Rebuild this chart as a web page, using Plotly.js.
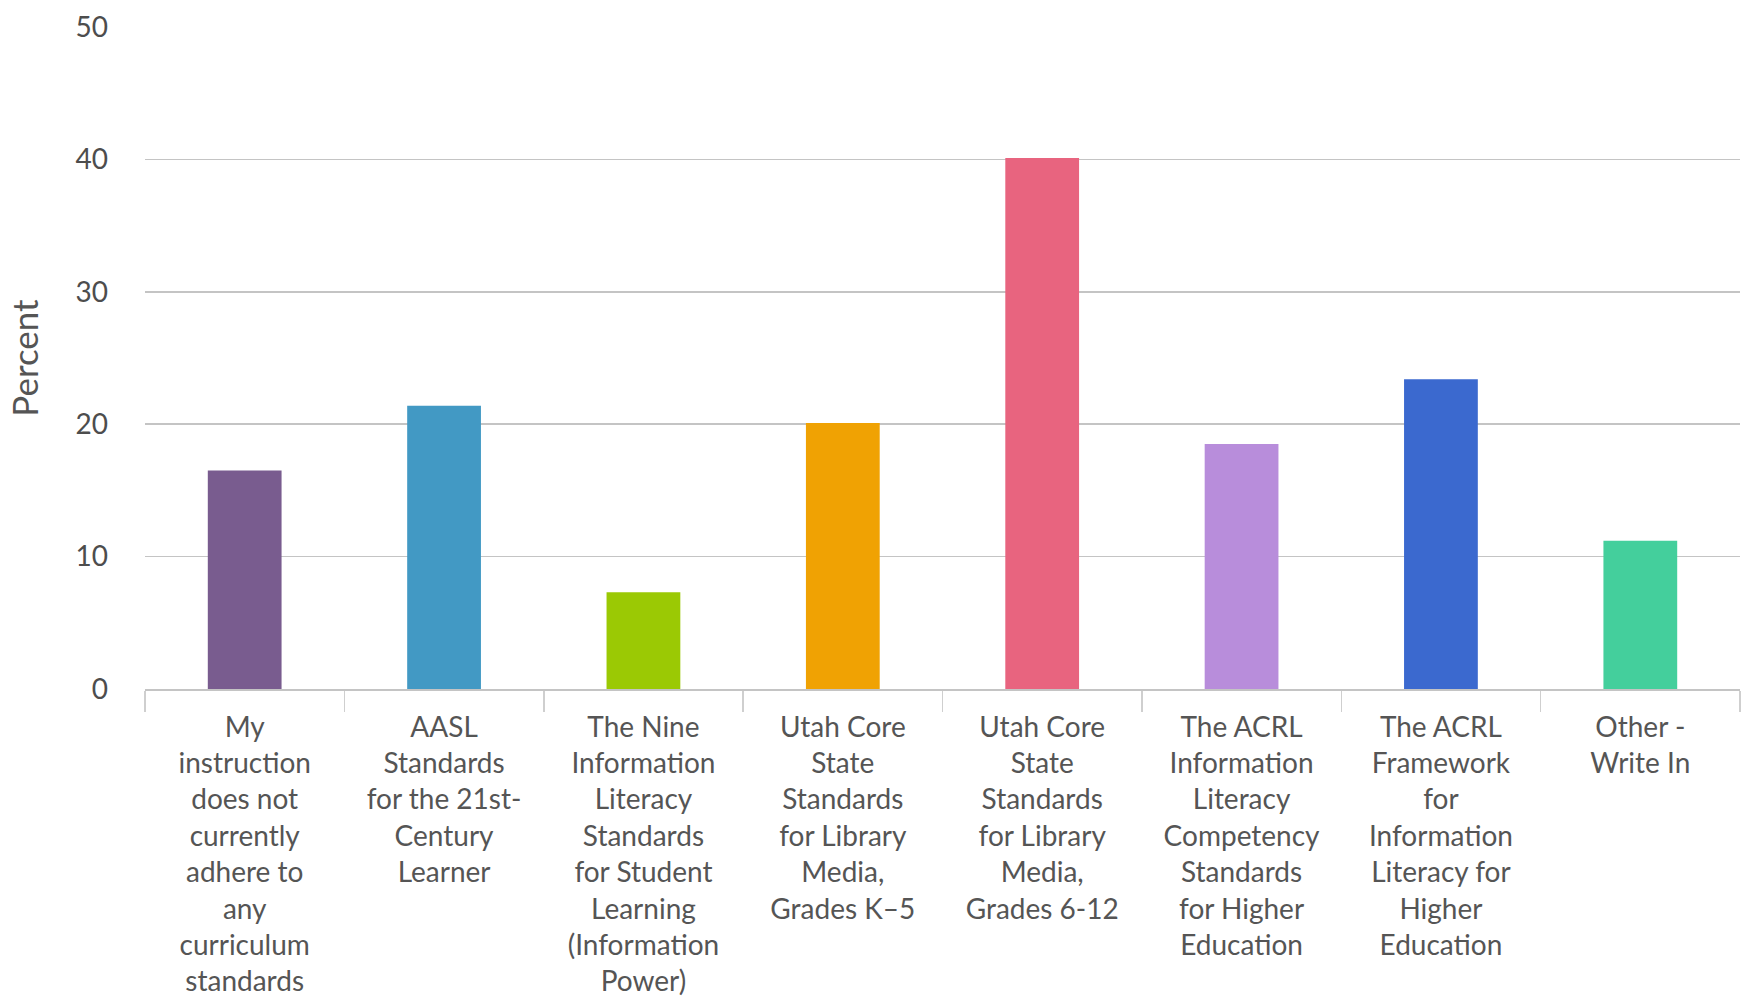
<!DOCTYPE html>
<html>
<head>
<meta charset="utf-8">
<script src="https://cdn.plot.ly/plotly-3.0.1.min.js"></script>
<style>html,body{margin:0;padding:0;background:#fff;}#chart{width:1743px;height:996px;}</style>
</head>
<body>
<div id="chart"></div>
<script>
const categories = [
  "My<br>instruction<br>does not<br>currently<br>adhere to<br>any<br>curriculum<br>standards",
  "AASL<br>Standards<br>for the 21st-<br>Century<br>Learner",
  "The Nine<br>Information<br>Literacy<br>Standards<br>for Student<br>Learning<br>(Information<br>Power)",
  "Utah Core<br>State<br>Standards<br>for Library<br>Media,<br>Grades K–5",
  "Utah Core<br>State<br>Standards<br>for Library<br>Media,<br>Grades 6-12",
  "The ACRL<br>Information<br>Literacy<br>Competency<br>Standards<br>for Higher<br>Education",
  "The ACRL<br>Framework<br>for<br>Information<br>Literacy for<br>Higher<br>Education",
  "Other -<br>Write In"
];
const percents = [16.5, 21.4, 7.3, 20.1, 40.1, 18.5, 23.4, 11.2];
const barColors = ["#795c8f", "#4299c4", "#9bc904", "#f0a203", "#e8647f", "#b88ddb", "#3b69cf", "#44cf9c"];
const yTickVals = [0, 10, 20, 30, 40, 50];
const yTitle = "Percent";

const trace = {
  type: "bar",
  x: categories,
  y: percents,
  marker: {color: barColors, line: {width: 0}},
  hoverinfo: "skip"
};

const layout = {
  width: 1743,
  height: 996,
  margin: {l: 145, r: 3, t: 27, b: 307},
  paper_bgcolor: "#ffffff",
  plot_bgcolor: "#ffffff",
  font: {family: "Lato, 'Open Sans', sans-serif", color: "#555555"},
  bargap: 0.63,
  showlegend: false,
  xaxis: {
    type: "category",
    tickson: "boundaries",
    ticks: "outside",
    ticklen: 21,
    tickwidth: 1.5,
    tickcolor: "#cfcfcf",
    showline: true,
    linecolor: "#c4c4c4",
    linewidth: 2,
    showgrid: false,
    tickangle: 0,
    ticklabelstandoff: 12,
    tickfont: {family: "Lato, 'Open Sans', sans-serif", size: 28, color: "#555555"},
    automargin: false
  },
  yaxis: {
    range: [0, 50],
    tickvals: yTickVals,
    ticktext: yTickVals.map(String),
    showgrid: true,
    gridcolor: "#c4c4c4",
    gridwidth: 1.5,
    zeroline: false,
    showline: false,
    ticks: "",
    ticklabelstandoff: 36,
    tickfont: {family: "Lato, 'Open Sans', sans-serif", size: 28, color: "#4d4d4d"},
    title: {text: yTitle, font: {family: "Lato, 'Open Sans', sans-serif", size: 35, color: "#555555"}, standoff: 26},
    automargin: false
  }
};

Plotly.newPlot("chart", [trace], layout, {displayModeBar: false, staticPlot: true});
</script>
</body>
</html>
